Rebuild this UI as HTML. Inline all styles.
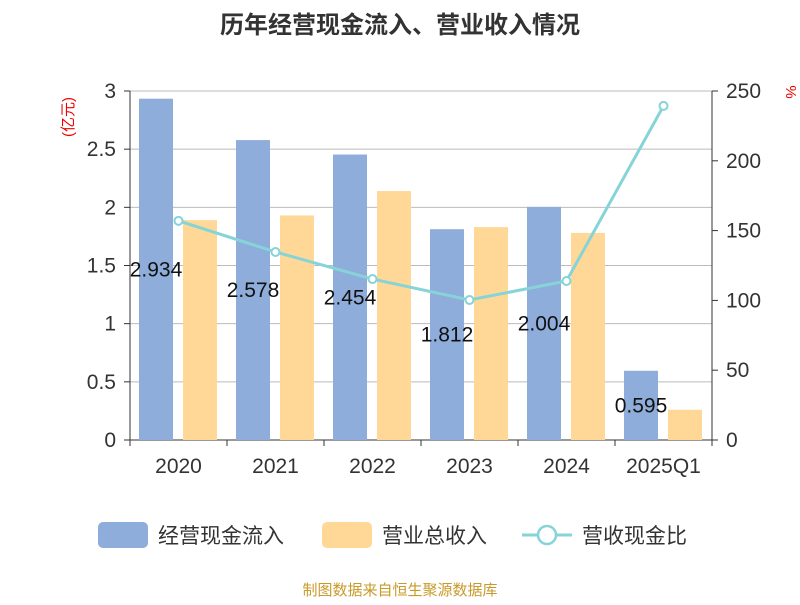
<!DOCTYPE html>
<html><head><meta charset="utf-8"><style>
body{margin:0;background:#fff;}
svg text{font-family:"Liberation Sans","Noto Sans CJK SC",sans-serif;}
</style></head><body>
<svg id="c" width="800" height="600" xmlns="http://www.w3.org/2000/svg">
<text x="400" y="33" text-anchor="middle" font-size="24" font-weight="bold" fill="#333">历年经营现金流入、营业收入情况</text>
<text transform="translate(73,117) rotate(-90)" text-anchor="middle" font-size="15" fill="#e00">(亿元)</text>
<text x="790" y="96" text-anchor="middle" font-size="15" fill="#e00" transform="rotate(90,790,92)">%</text>
<g id="plot"></g>
<g>
<rect x="98" y="522" width="50" height="26" rx="5" fill="#8eadda"/>
<text x="158" y="543" font-size="21" fill="#333">经营现金流入</text>
<rect x="322" y="522" width="50" height="26" rx="5" fill="#ffd897"/>
<text x="382" y="543" font-size="21" fill="#333">营业总收入</text>
<line x1="522" y1="535" x2="572" y2="535" stroke="#86d3d8" stroke-width="3"/>
<circle cx="547" cy="535" r="9" fill="#fff" stroke="#86d3d8" stroke-width="2.5"/>
<text x="582" y="543" font-size="21" fill="#333">营收现金比</text>
</g>
<text x="400" y="595" text-anchor="middle" font-size="15" fill="#c89a2a">制图数据来自恒生聚源数据库</text>
</svg>
<script>
const categories=["2020","2021","2022","2023","2024","2025Q1"];
const cashIn=[2.934,2.578,2.454,1.812,2.004,0.595];
const revenue=[1.89,1.93,2.14,1.83,1.78,0.26];
const ratio=[157,134.7,115.3,100.3,113.9,239.3];
const leftTicks=["0","0.5","1","1.5","2","2.5","3"];
const rightTicks=["0","50","100","150","200","250"];
const NS="http://www.w3.org/2000/svg";
const g=document.getElementById('plot');
const X0=130,X1=712,Y0=440,Y1=91;
const band=(X1-X0)/categories.length;
const yL=v=>Y0-(v/3)*(Y0-Y1);
const yR=v=>Y0-(v/250)*(Y0-Y1);
function mk(t,a){const e=document.createElementNS(NS,t);for(const k in a)e.setAttribute(k,a[k]);g.appendChild(e);return e;}
leftTicks.forEach((t,i)=>{const v=parseFloat(t),y=yL(v);
 const l=mk('line',{x1:X0,x2:X1,y1:y,y2:y,stroke:i==0?'#333':'#bbb','stroke-width':1});
 
 
 mk('line',{x1:X0-6,x2:X0,y1:y,y2:y,stroke:'#333'});
 const tx=mk('text',{x:X0-14,y:y+7,'text-anchor':'end','font-size':21,fill:'#333'});tx.textContent=t;
 
 
});
rightTicks.forEach(t=>{const y=yR(parseFloat(t));
 mk('line',{x1:X1,x2:X1+6,y1:y,y2:y,stroke:'#333'});
 const tx=mk('text',{x:X1+14,y:y+7,'font-size':21,fill:'#333'});tx.textContent=t;
 
 
});
mk('line',{x1:X0,x2:X0,y1:Y1,y2:Y0,stroke:'#333'});
mk('line',{x1:X1,x2:X1,y1:Y1,y2:Y0,stroke:'#333'});
categories.forEach((c,i)=>{
 const bx=X0+i*band;
 mk('line',{x1:bx,x2:bx,y1:Y0,y2:Y0+6,stroke:'#333'});
 const tx=mk('text',{x:bx+band/2,y:Y0+33,'text-anchor':'middle','font-size':21,fill:'#333'});tx.textContent=c;
 
 
 const b1=mk('rect',{x:bx+9,y:yL(cashIn[i]),width:34,height:Y0-yL(cashIn[i]),fill:'#8eadda'});
 
 
 const b2=mk('rect',{x:bx+53,y:yL(revenue[i]),width:34,height:Y0-yL(revenue[i]),fill:'#ffd897'});
 
 
});
mk('line',{x1:X1,x2:X1,y1:Y0,y2:Y0+6,stroke:'#333'});
const pts=ratio.map((v,i)=>[X0+i*band+band/2,yR(v)]);
const pl=mk('polyline',{points:pts.map(p=>p.join(',')).join(' '),fill:'none',stroke:'#86d3d8','stroke-width':3});


pts.forEach((p,i)=>{const c=mk('circle',{cx:p[0],cy:p[1],r:4,fill:'#fff',stroke:'#86d3d8','stroke-width':2});
 
 });
cashIn.forEach((v,i)=>{const y=(yL(v)+Y0)/2;
 const tx=mk('text',{x:X0+i*band+26,y:y+7,'text-anchor':'middle','font-size':21,fill:'#111'});tx.textContent=v.toFixed(3);
 
 });
</script>
</body></html>
